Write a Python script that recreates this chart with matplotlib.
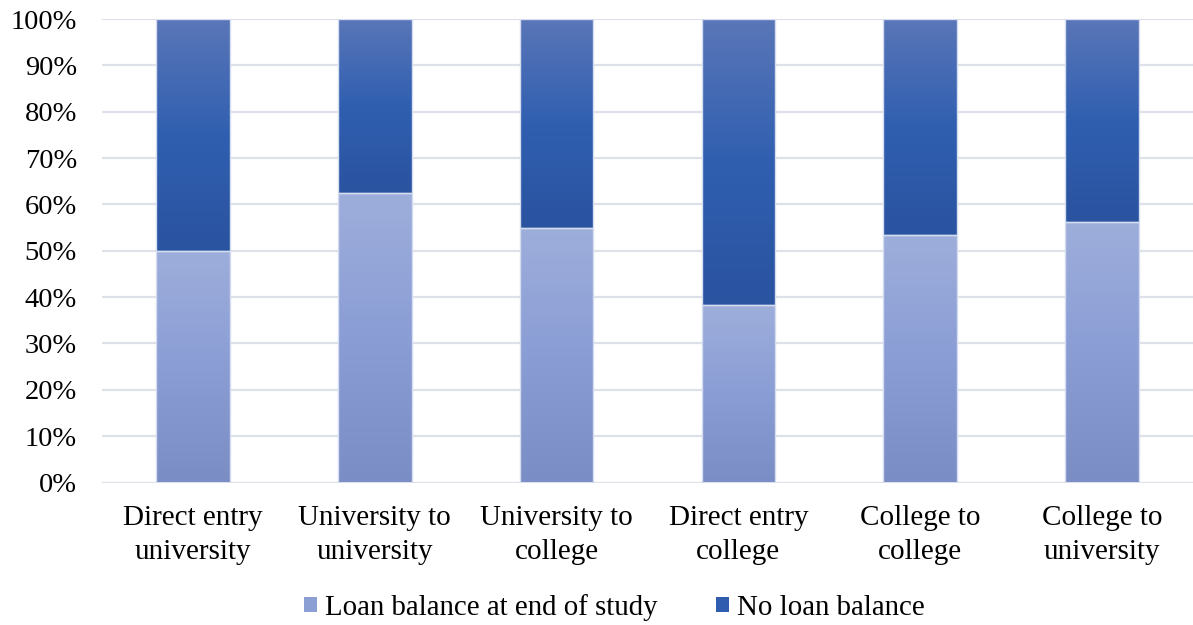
import numpy as np
import matplotlib
matplotlib.use("Agg")
import matplotlib.pyplot as plt
from matplotlib.colors import LinearSegmentedColormap
from matplotlib.patches import Patch

# Share of students by pathway, with and without a loan balance at end of study
categories = ["Direct entry\nuniversity", "University to\nuniversity", "University to\ncollege",
              "Direct entry\ncollege", "College to\ncollege", "College to\nuniversity"]
loan_balance = [50.0, 62.4, 55.0, 38.3, 53.5, 56.3]
no_loan_balance = [100 - v for v in loan_balance]
series_names = ["Loan balance at end of study", "No loan balance"]
y_ticks = [0, 10, 20, 30, 40, 50, 60, 70, 80, 90, 100]

plt.rcParams["font.family"] = ["Liberation Serif", "DejaVu Serif"]

# Gradients run bottom -> middle -> top of each segment
light_cmap = LinearSegmentedColormap.from_list("light", ["#7a8dc5", "#8a9dd5", "#9eaedb"])
dark_cmap = LinearSegmentedColormap.from_list("dark", ["#2a53a0", "#305fb0", "#5a76b8"])

fig = plt.figure(figsize=(11.93, 6.25), dpi=100)
ax = fig.add_axes([0.0855, 0.228, 0.9145, 0.7415])

x = np.arange(len(categories))
width = 0.405
edge = "#d4ddf0"
b1 = ax.bar(x, loan_balance, width, facecolor="none", edgecolor=edge, linewidth=1.0, zorder=3)
b2 = ax.bar(x, no_loan_balance, width, bottom=loan_balance, facecolor="none",
            edgecolor=edge, linewidth=1.0, zorder=3)

grad = np.linspace(0, 1, 256).reshape(-1, 1)


def gradient_fill(patch, cmap):
    x0, y0 = patch.get_x(), patch.get_y()
    w, h = patch.get_width(), patch.get_height()
    im = ax.imshow(grad, cmap=cmap, origin="lower", aspect="auto",
                   extent=(x0, x0 + w, y0, y0 + h), zorder=2, interpolation="bilinear")
    im.set_clip_path(patch)


for p in b1.patches:
    gradient_fill(p, light_cmap)
for p in b2.patches:
    gradient_fill(p, dark_cmap)

ax.set_xlim(-0.5, len(categories) - 0.5)
ax.set_ylim(0, 100)
ax.set_yticks(y_ticks)
ax.set_yticklabels([f"{t}%" for t in y_ticks])
ax.set_xticks(x)
ax.set_xticklabels(categories, fontsize=21, linespacing=1.4)
ax.tick_params(axis="y", length=0, pad=18, labelsize=20.5)
ax.tick_params(axis="x", length=0, pad=16)
for s in ax.spines.values():
    s.set_visible(False)
ax.yaxis.grid(True, color="#dde1ea", linewidth=1.6, zorder=0)
ax.set_axisbelow(True)

handles = [Patch(facecolor="#8c9fd4", edgecolor="none"),
           Patch(facecolor="#2f5cae", edgecolor="none")]
fig.legend(handles, series_names, loc="center", bbox_to_anchor=(0.515, 0.028), ncol=2,
           frameon=False, fontsize=20.8, handlelength=0.45, handleheight=0.45,
           handletextpad=0.3, columnspacing=2.0)

fig.savefig("out.png", dpi=100)
